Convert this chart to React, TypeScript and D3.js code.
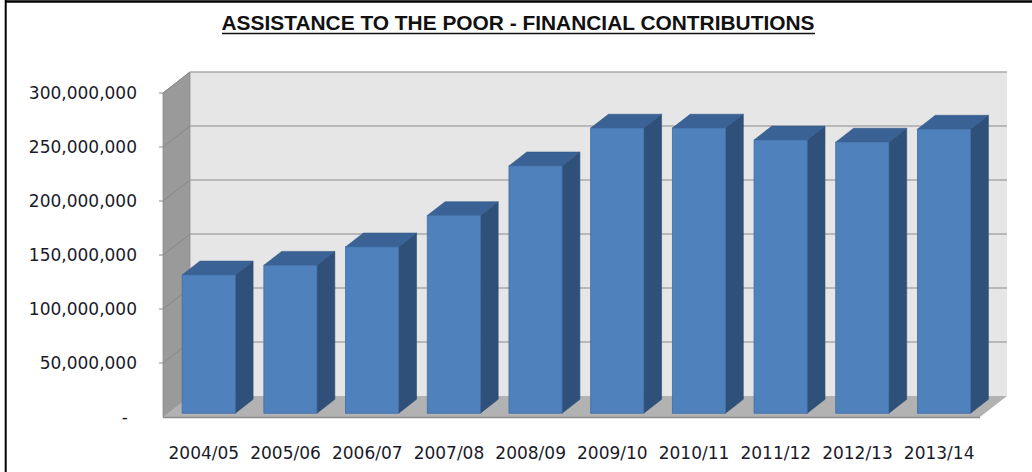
import React from "react";
import * as d3 from "d3";

const categories = ["2004/05", "2005/06", "2006/07", "2007/08", "2008/09", "2009/10", "2010/11", "2011/12", "2012/13", "2013/14"];
const values = [128e6, 137e6, 154e6, 183e6, 229e6, 264e6, 264e6, 253e6, 251e6, 263e6];
const yTicks = [0, 50e6, 100e6, 150e6, 200e6, 250e6, 300e6];
const title = "ASSISTANCE TO THE POOR - FINANCIAL CONTRIBUTIONS";

const W = 1032;
const H = 472;
const backLeft = 190;
const backRight = 1007;
const backTop = 72;
const backBottom = 396;
const DX = 27;
const DY = 21;
const f0 = 0.18;
const f1 = 0.84;

const off = (f: number) => ({ x: -DX * (1 - f), y: DY * (1 - f) });

export default function App() {
  const y = d3.scaleLinear().domain([0, 300e6]).range([backBottom, backTop]);
  const x = d3
    .scaleBand<string>()
    .domain(categories)
    .range([backLeft, backRight])
    .paddingInner(0.35)
    .paddingOuter(0.175);
  const bw = x.bandwidth();
  const fmt = (v: number) => (v === 0 ? "-" : d3.format(",")(v));
  const font = "'DejaVu Sans', Verdana, sans-serif";
  const o0 = off(f0);
  const o1 = off(f1);
  const pts = (a: [number, number][]) => a.map((p) => p.join(",")).join(" ");

  return (
    <svg width={W} height={H} style={{ position: "absolute", left: 0, top: 0, background: "#fff" }}>
      <rect x={0} y={0} width={W} height={H} fill="#fff" />
      {/* frame */}
      <line x1={5.7} y1={0} x2={5.7} y2={H} stroke="#000" strokeWidth={2} />
      <line x1={5} y1={1.5} x2={W} y2={1.5} stroke="#000" strokeWidth={2.5} />

      {/* title */}
      <text
        x={518}
        y={30}
        textAnchor="middle"
        fontFamily="'Liberation Sans Narrow', 'Liberation Sans', Arial, sans-serif"
        fontWeight="bold"
        fontSize={20}
        textLength={593}
        lengthAdjust="spacingAndGlyphs"
        fill="#111"
      >
        {title}
      </text>
      <line x1={222} y1={33.5} x2={815} y2={33.5} stroke="#111" strokeWidth={1.5} />

      {/* back wall */}
      <rect x={backLeft} y={backTop} width={backRight - backLeft} height={backBottom - backTop} fill="#e6e6e6" />
      {/* left wall */}
      <polygon
        points={pts([
          [backLeft - DX, y(300e6) + DY],
          [backLeft, y(300e6)],
          [backLeft, backBottom],
          [backLeft - DX, backBottom + DY],
        ])}
        fill="#9a9a9a"
        stroke="#8c8c8c"
        strokeWidth={0.8}
      />
      {/* floor */}
      <polygon
        points={pts([
          [backLeft - DX, backBottom + DY],
          [backRight - DX, backBottom + DY],
          [backRight, backBottom],
          [backLeft, backBottom],
        ])}
        fill="#b2b2b2"
      />
      <line
        x1={backLeft - DX}
        y1={backBottom + DY + 0.5}
        x2={backRight - DX}
        y2={backBottom + DY + 0.5}
        stroke="#8a8a8a"
        strokeWidth={1.5}
      />

      {/* gridlines */}
      {yTicks
        .filter((t) => t > 0)
        .map((t) => (
          <g key={t}>
            <line x1={backLeft} y1={y(t)} x2={backRight} y2={y(t)} stroke="#a8a8a8" strokeWidth={1.5} />
            <line x1={backLeft} y1={y(t)} x2={backLeft - DX} y2={y(t) + DY} stroke="#888" strokeWidth={1} />
            <line x1={backLeft - DX - 4} y1={y(t) + DY} x2={backLeft - DX} y2={y(t) + DY} stroke="#888" strokeWidth={1} />
          </g>
        ))}

      {/* bars */}
      {categories.map((c, i) => {
        const v = values[i];
        const xl = x(c)!;
        const xr = xl + bw;
        const yt = y(v);
        const yb = y(0);
        const fl: [number, number] = [xl + o0.x, yt + o0.y];
        const fr: [number, number] = [xr + o0.x, yt + o0.y];
        const br: [number, number] = [xr + o1.x, yt + o1.y];
        const bl: [number, number] = [xl + o1.x, yt + o1.y];
        return (
          <g key={c}>
            <polygon
              points={pts([fr, br, [xr + o1.x, yb + o1.y], [xr + o0.x, yb + o0.y]])}
              fill="#2f5179"
              stroke="#2a4870"
              strokeWidth={0.6}
            />
            <polygon points={pts([fl, fr, br, bl])} fill="#3a6295" stroke="#345a8a" strokeWidth={0.6} />
            <rect
              x={xl + o0.x}
              y={yt + o0.y}
              width={bw}
              height={yb - yt}
              fill="#4f81bd"
              stroke="#3f6ea6"
              strokeWidth={0.8}
            />
          </g>
        );
      })}

      {/* y labels */}
      {yTicks.map((t) => (
        <text
          key={t}
          x={t === 0 ? 128 : 137}
          y={y(t) + DY}
          dy="0.35em"
          textAnchor="end"
          fontFamily={font}
          fontSize={17}
          fill="#1a1a2a"
        >
          {fmt(t)}
        </text>
      ))}

      {/* x labels */}
      {categories.map((c) => (
        <text
          key={c}
          x={x(c)! + bw / 2 - DX}
          y={459}
          textAnchor="middle"
          fontFamily={font}
          fontSize={17}
          fill="#1a1a2a"
        >
          {c}
        </text>
      ))}
    </svg>
  );
}
